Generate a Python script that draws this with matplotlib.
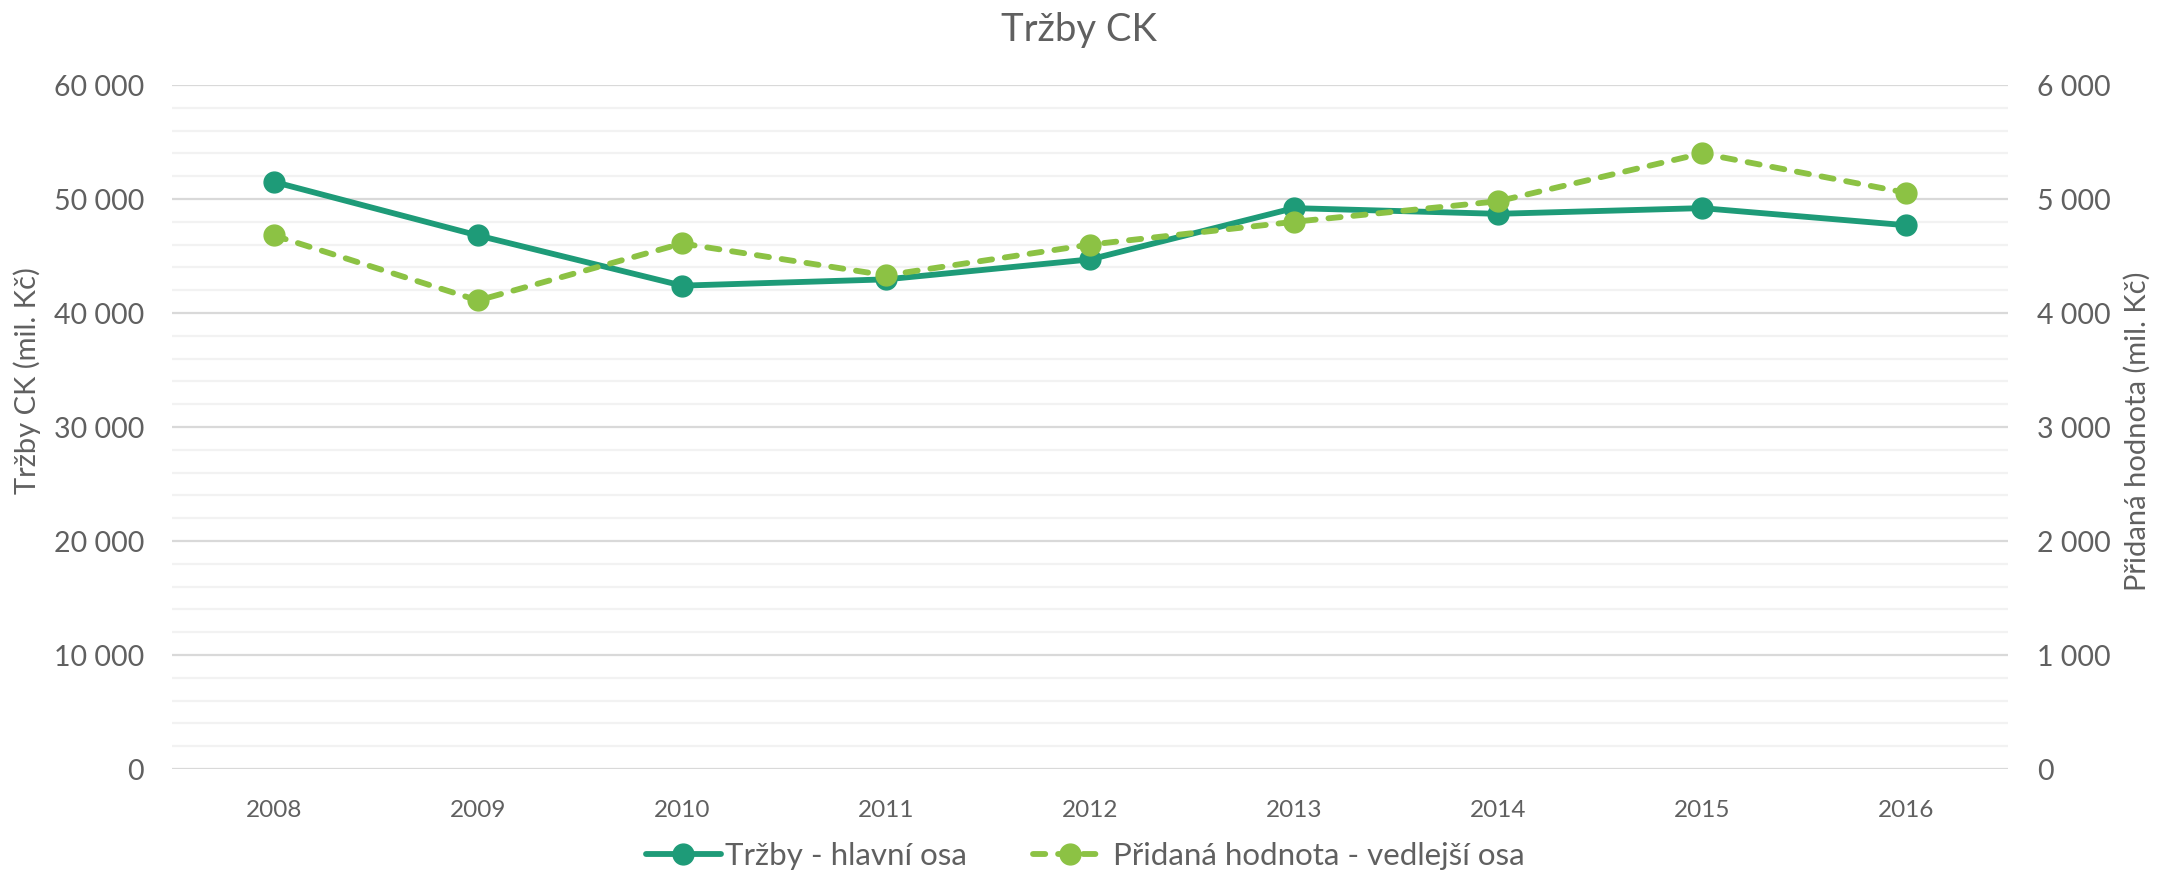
import matplotlib
matplotlib.use("Agg")
import matplotlib.pyplot as plt
from matplotlib.ticker import FuncFormatter, MultipleLocator

years = ["2008", "2009", "2010", "2011", "2012", "2013", "2014", "2015", "2016"]
trzby = [51500, 46800, 42400, 42950, 44700, 49200, 48700, 49200, 47700]
pridana = [4680, 4110, 4610, 4330, 4600, 4800, 4980, 5400, 5055]

title = "Tržby CK"
ylabel_left = "Tržby CK (mil. Kč)"
ylabel_right = "Přidaná hodnota (mil. Kč)"
label_trzby = "Tržby - hlavní osa"
label_pridana = "Přidaná hodnota - vedlejší osa"

plt.rcParams['font.family'] = ['Lato', 'DejaVu Sans']
plt.rcParams['font.weight'] = 'normal'
TXT = "#606060"
C1 = "#1E9B78"
C2 = "#8CC244"

W, H = 2158, 875
fig = plt.figure(figsize=(W / 100, H / 100), dpi=100)
ax = fig.add_axes([172 / W, 1 - 769 / H, (2008 - 172) / W, (769 - 85) / H])
ax2 = ax.twinx()

x = list(range(len(years)))

def fmt(v, pos):
    return f"{int(round(v)):,}".replace(",", " ")

ax.set_ylim(0, 60000)
ax2.set_ylim(0, 6000)
ax.set_xlim(-0.5, len(years) - 0.5)
ax.yaxis.set_major_locator(MultipleLocator(10000))
ax.yaxis.set_minor_locator(MultipleLocator(2000))
ax2.yaxis.set_major_locator(MultipleLocator(1000))
ax.yaxis.set_major_formatter(FuncFormatter(fmt))
ax2.yaxis.set_major_formatter(FuncFormatter(fmt))
ax.grid(axis='y', which='minor', color="#F2F2F2", linewidth=1.6, zorder=0)
ax.grid(axis='y', which='major', color="#D9D9D9", linewidth=1.6, zorder=0)
ax.set_axisbelow(True)

for a in (ax, ax2):
    for s in a.spines.values():
        s.set_visible(False)
    a.tick_params(axis='both', which='both', length=0, colors=TXT)

ax.set_xticks(x)
ax.set_xticklabels(years)
ax.tick_params(axis='x', labelsize=17.5, pad=22)
ax.tick_params(axis='y', labelsize=20.5, pad=20)
ax2.tick_params(axis='y', labelsize=20.5, pad=21)

LW = 4.2
MS = 15
l1, = ax.plot(x, trzby, color=C1, linewidth=LW, marker='o', markersize=MS,
              markeredgecolor=C1, markerfacecolor=C1, solid_capstyle='round',
              label=label_trzby, zorder=3)
l2, = ax2.plot(x, pridana, color=C2, linewidth=LW, marker='o', markersize=MS,
               markeredgecolor=C2, markerfacecolor=C2, linestyle=(0, (2.1, 2.2)),
               dash_capstyle='round', label=label_pridana, zorder=3)

fig.text(27.5 / W, 1 - 381 / H, ylabel_left, rotation=90, ha='center', va='center',
         fontsize=21, color=TXT)
fig.text(2137 / W, 1 - 431 / H, ylabel_right, rotation=90, ha='center', va='center',
         fontsize=21, color=TXT)
fig.text(0.5, 1 - 30 / H, title, ha='center', va='center', fontsize=27.5, color=TXT)

leg = fig.legend([l1, l2], [label_trzby, label_pridana], loc='center',
                 bbox_to_anchor=(1085 / W, 1 - 856 / H), ncol=2, frameon=False,
                 fontsize=22.5, handlelength=2.4, handletextpad=0.15,
                 columnspacing=2.1, labelcolor=TXT)

fig.savefig("out.png", dpi=100, facecolor="white")
